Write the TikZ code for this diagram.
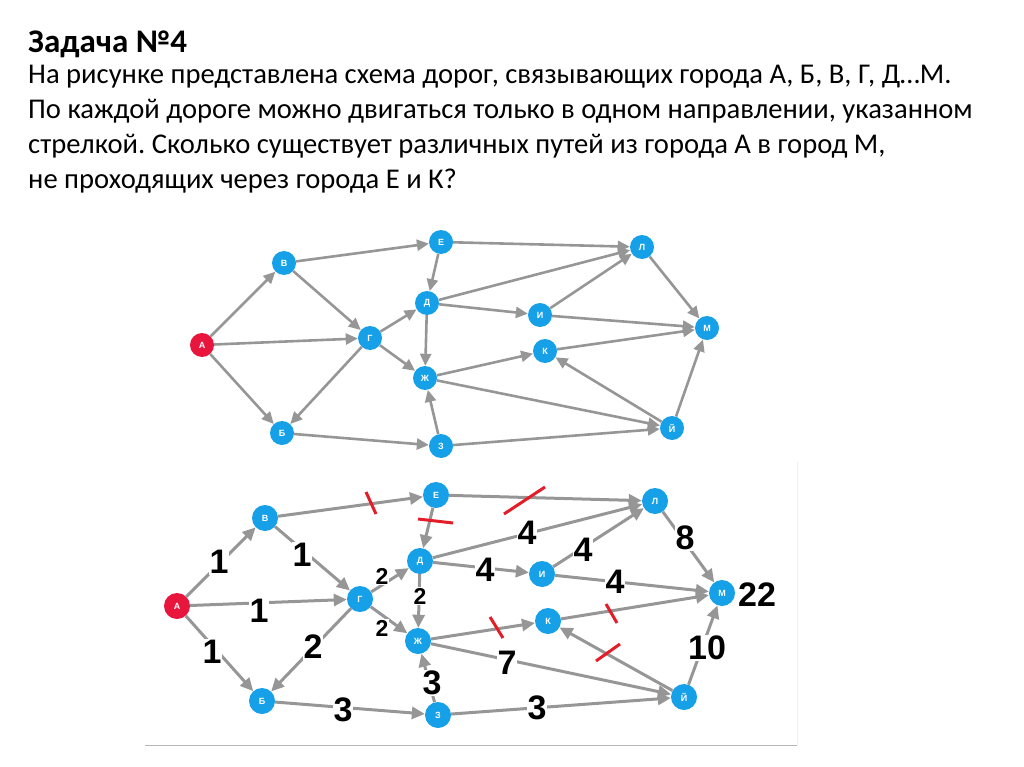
\documentclass[tikz,border=0pt]{standalone}
\usepackage{fontspec}
\setmainfont{Carlito}
\newfontfamily\numfont{Liberation Sans}
\usetikzlibrary{arrows.meta}
\definecolor{cblue}{RGB}{22,160,232}
\definecolor{cred}{RGB}{232,22,60}
\definecolor{ctick}{RGB}{228,30,40}
\definecolor{cgray}{RGB}{150,150,150}
\tikzset{
  city/.style={circle, fill=cblue, minimum size=24pt, inner sep=0pt, text=white,
    font=\numfont\bfseries\fontsize{9}{9}\selectfont},
  bcity/.style={city, minimum size=26pt},
  startcity/.style={fill=cred},
  road/.style={draw=cgray, line width=2.6pt, -{Triangle[length=12pt,width=11pt]}},
  broad/.style={draw=cgray, line width=3pt, -{Triangle[length=13pt,width=12pt]}},
  num/.style={font=\numfont\bfseries\fontsize{34}{34}\selectfont, fill=white, inner sep=1pt},
  snum/.style={font=\numfont\bfseries\fontsize{23}{23}\selectfont, fill=white, inner sep=1pt},
  cut/.style={draw=ctick, line width=3pt},
  txt/.style={anchor=base west, inner sep=0pt, font=\fontsize{28.6}{32}\selectfont},
}
\frenchspacing
\begin{document}
\begin{tikzpicture}[x=1pt,y=-1pt]
\useasboundingbox (0,0) rectangle (1024,767);
% text
\node[txt, font=\bfseries\fontsize{33}{36}\selectfont] (title) at (28,53) {Задача №4};
\node[txt] (l1) at (28,84) {На рисунке представлена схема дорог, связывающих города А, Б, В, Г, Д…М.};
\node[txt] (l2) at (28,119) {По каждой дороге можно двигаться только в одном направлении, указанном};
\node[txt] (l3) at (28,154) {стрелкой. Сколько существует различных путей из города А в город М,};
\node[txt] (l4) at (28,189) {не проходящих через города Е и К?};

% ---------- top graph ----------
\node[city, startcity] (tA) at (202,345) {А};
\node[city] (tV) at (284,263) {В};
\node[city] (tE) at (441,242) {Е};
\node[city] (tL) at (642,247) {Л};
\node[city] (tG) at (370,338) {Г};
\node[city] (tD) at (427,303) {Д};
\node[city] (tI) at (540,315) {И};
\node[city] (tM) at (707,328) {М};
\node[city] (tK) at (545,351) {К};
\node[city] (tZh) at (425,378) {Ж};
\node[city] (tJ) at (672,428) {Й};
\node[city] (tB) at (282,433) {Б};
\node[city] (tZ) at (441,446) {З};
\foreach \a/\b in {tA/tV,tA/tG,tA/tB,tV/tE,tV/tG,tG/tB,tG/tD,tG/tZh,tE/tL,tE/tD,
  tD/tL,tD/tI,tD/tZh,tI/tL,tI/tM,tL/tM,tZh/tK,tZh/tJ,tZ/tZh,tB/tZ,tZ/tJ,tJ/tK,tK/tM,tJ/tM}
  \draw[road] (\a) -- (\b);

% ---------- bottom graph ----------
\draw[cgray!70, line width=0.8pt] (145,745) coordinate (fl) -- (797,745) coordinate (fr);
\draw[cgray!15, line width=0.6pt] (797,462) coordinate (ft) -- (fr);
\node[bcity, startcity] (bA) at (177,606) {А};
\node[bcity] (bV) at (265,518) {В};
\node[bcity] (bE) at (436,495) {Е};
\node[bcity] (bL) at (655,501) {Л};
\node[bcity] (bG) at (360,599) {Г};
\node[bcity] (bD) at (420,561) {Д};
\node[bcity] (bI) at (542,574) {И};
\node[bcity] (bM) at (722,593) {М};
\node[bcity] (bK) at (548,621) {К};
\node[bcity] (bZh) at (418,641) {Ж};
\node[bcity] (bJ) at (684,697) {Й};
\node[bcity] (bB) at (262,701) {Б};
\node[bcity] (bZ) at (438,715) {З};
\foreach \a/\b in {bA/bV,bA/bG,bA/bB,bV/bE,bV/bG,bG/bB,bG/bD,bG/bZh,bE/bL,bE/bD,
  bD/bL,bD/bI,bD/bZh,bI/bL,bI/bM,bL/bM,bZh/bK,bZh/bJ,bZ/bZh,bB/bZ,bZ/bJ,bJ/bK,bK/bM,bJ/bM}
  \draw[broad] (\a) -- (\b);

% numbers
\node[num] (n1) at (219,562) {1};
\node[num] (n2) at (302,555) {1};
\node[num] (n3) at (259,611) {1};
\node[num] (n4) at (212,652) {1};
\node[num] (n5) at (313,647) {2};
\node[snum] (n6) at (382,576) {2};
\node[snum] (n7) at (382,628) {2};
\node[snum] (n8) at (420,596) {2};
\node[num] (n9) at (485,570) {4};
\node[num] (n10) at (527,533) {4};
\node[num] (n11) at (583,550) {4};
\node[num] (n12) at (615,582) {4};
\node[num] (n13) at (685,538) {8};
\node[num, fill=none] (n14) at (757,595) {22};
\node[num] (n15) at (343,710) {3};
\node[num] (n16) at (432,683) {3};
\node[num] (n17) at (507,663) {7};
\node[num] (n18) at (537,708) {3};
\node[num] (n19) at (707,648) {10};

% red cuts
\draw[cut] (366,492) -- (376,514);
\draw[cut] (504,514) -- (545,487);
\draw[cut] (418,519) -- (453,523);
\draw[cut] (490,617) -- (503,638);
\draw[cut] (606,604) -- (617,623);
\draw[cut] (596,661) -- (620,644);
\end{tikzpicture}
\end{document}
